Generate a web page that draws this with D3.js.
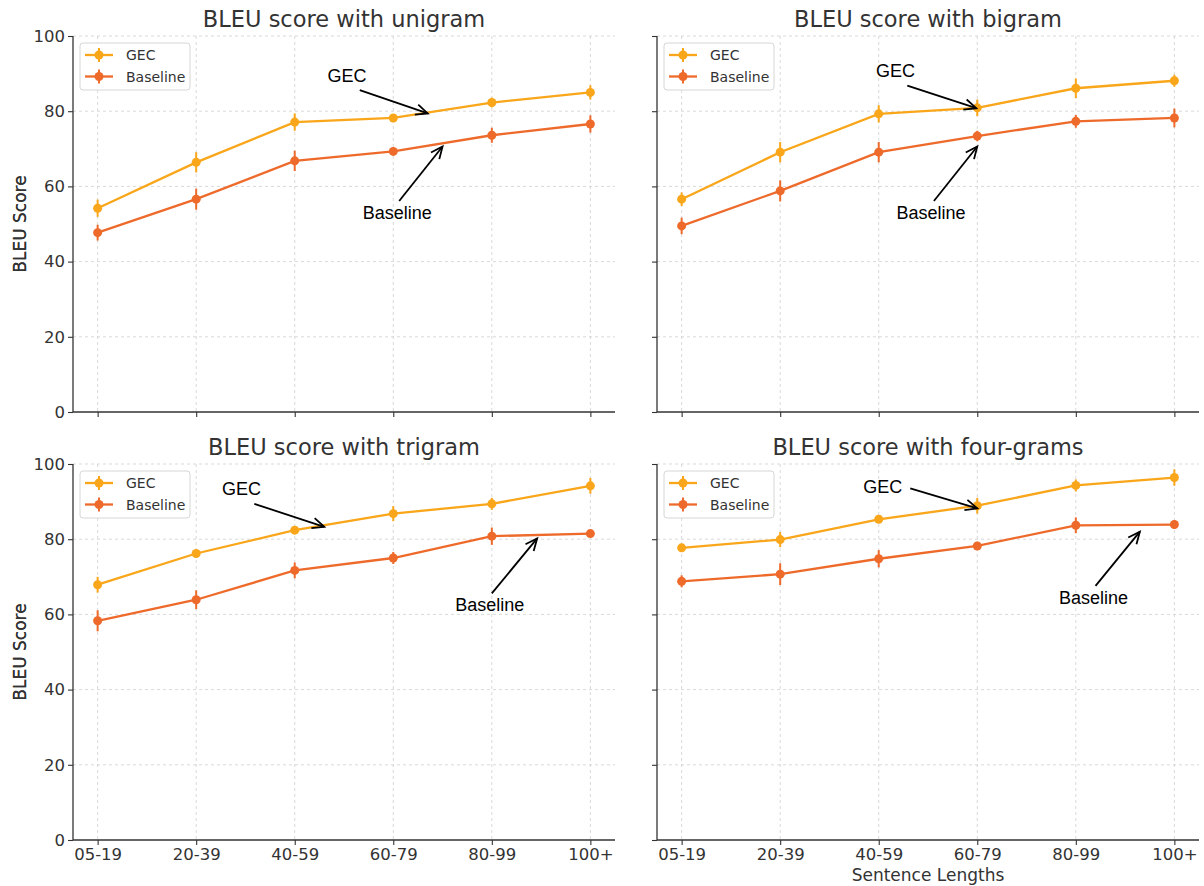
<!DOCTYPE html>
<html>
<head>
<meta charset="utf-8">
<script src="https://cdn.jsdelivr.net/npm/d3@7"></script>
<style>
  html, body { margin: 0; padding: 0; background: #fff; }
  svg { display: block; }
</style>
</head>
<body>
<svg id="chart" width="1204" height="886"></svg>
<script>
// ---------- data ----------
const categories = ["05-19", "20-39", "40-59", "60-79", "80-99", "100+"];
const yTicks = [0, 20, 40, 60, 80, 100];
const seriesNames = ["GEC", "Baseline"];
const panelTitles = ["BLEU score with unigram", "BLEU score with bigram", "BLEU score with trigram", "BLEU score with four-grams"];

const unigramGEC = [54.2, 66.4, 77.1, 78.2, 82.3, 85.0];
const unigramGECErr = [2.3, 2.7, 2.3, 1.0, 1.3, 1.9];
const unigramBase = [47.7, 56.6, 66.8, 69.3, 73.6, 76.6];
const unigramBaseErr = [2.1, 2.8, 2.7, 1.0, 2.0, 2.3];

const bigramGEC = [56.6, 69.1, 79.3, 80.9, 86.1, 88.1];
const bigramGECErr = [1.8, 2.7, 2.3, 2.2, 2.6, 1.6];
const bigramBase = [49.5, 58.8, 69.1, 73.4, 77.3, 78.2];
const bigramBaseErr = [2.2, 2.8, 2.7, 1.4, 1.7, 2.5];

const trigramGEC = [67.9, 76.2, 82.4, 86.8, 89.4, 94.2];
const trigramGECErr = [2.1, 0.9, 1.0, 2.0, 1.6, 2.1];
const trigramBase = [58.3, 63.9, 71.7, 75.0, 80.8, 81.5];
const trigramBaseErr = [2.8, 2.5, 2.1, 1.6, 2.3, 0.8];

const fourgramGEC = [77.7, 79.9, 85.3, 88.9, 94.3, 96.4];
const fourgramGECErr = [0.9, 2.0, 0.9, 2.1, 1.6, 2.2];
const fourgramBase = [68.8, 70.7, 74.8, 78.2, 83.7, 83.9];
const fourgramBaseErr = [1.6, 2.9, 2.3, 1.1, 2.1, 1.2];

// annotations in data coordinates: [label, textX, textY, tailX, tailY, headX, headY]
const unigramNotes = [["GEC", 2.53, 89.4, 2.66, 85.6, 3.35, 79.4], ["Baseline", 3.04, 53.0, 3.06, 56.1, 3.50, 70.6]];
const bigramNotes = [["GEC", 2.17, 90.7, 2.29, 86.8, 2.99, 80.8], ["Baseline", 2.53, 53.0, 2.56, 56.1, 3.00, 70.6]];
const trigramNotes = [["GEC", 1.46, 93.3, 1.59, 89.4, 2.30, 83.3], ["Baseline", 3.98, 62.5, 4.00, 65.6, 4.46, 80.2]];
const fourgramNotes = [["GEC", 2.04, 94.0, 2.32, 93.5, 3.00, 88.2], ["Baseline", 4.18, 64.3, 4.20, 67.6, 4.65, 82.0]];

// ---------- styling ----------
const colors = { GEC: "#F9A61A", Baseline: "#EE6A2B" };
const textColor = "#333333";
const baseFont = "'DejaVu Sans', sans-serif";
const noteFont = "'Liberation Sans', Arial, sans-serif";

const panels = [
  { title: panelTitles[0], gec: unigramGEC, gecErr: unigramGECErr, base: unigramBase, baseErr: unigramBaseErr, notes: unigramNotes, left: 73, top: 36, showY: true, showX: false },
  { title: panelTitles[1], gec: bigramGEC, gecErr: bigramGECErr, base: bigramBase, baseErr: bigramBaseErr, notes: bigramNotes, left: 657, top: 36, showY: false, showX: false },
  { title: panelTitles[2], gec: trigramGEC, gecErr: trigramGECErr, base: trigramBase, baseErr: trigramBaseErr, notes: trigramNotes, left: 73, top: 464, showY: true, showX: true },
  { title: panelTitles[3], gec: fourgramGEC, gecErr: fourgramGECErr, base: fourgramBase, baseErr: fourgramBaseErr, notes: fourgramNotes, left: 657, top: 464, showY: false, showX: true, xLabel: "Sentence Lengths" }
];
const pw = 542, ph = 376;

const svg = d3.select("#chart");
svg.append("rect").attr("width", 1204).attr("height", 886).attr("fill", "#fff");

panels.forEach((p) => {
  const x = d3.scaleLinear().domain([-0.25, categories.length - 0.75]).range([0, pw]);
  const y = d3.scaleLinear().domain([0, 100]).range([ph, 0]);
  const g = svg.append("g").attr("transform", `translate(${p.left},${p.top})`);

  // grid
  const grid = g.append("g");
  grid.selectAll("line.gy").data(yTicks.filter(t => t > 0)).join("line")
    .attr("x1", 0).attr("x2", pw).attr("y1", d => y(d)).attr("y2", d => y(d))
    .attr("stroke", "#cfcfcf").attr("stroke-width", 0.8).attr("stroke-dasharray", "3,3");
  grid.selectAll("line.gx").data(categories.map((c, i) => i)).join("line")
    .attr("x1", d => x(d)).attr("x2", d => x(d)).attr("y1", 0).attr("y2", ph)
    .attr("stroke", "#cfcfcf").attr("stroke-width", 0.8).attr("stroke-dasharray", "3,3");

  // axes
  const yAxis = d3.axisLeft(y).tickValues(yTicks).tickSize(5).tickPadding(3)
    .tickFormat(p.showY ? d3.format("d") : () => "");
  const ya = g.append("g").call(yAxis);
  const xAxis = d3.axisBottom(x).tickValues(categories.map((c, i) => i)).tickSize(5).tickPadding(3)
    .tickFormat(p.showX ? (i => categories[i]) : () => "");
  const xa = g.append("g").attr("transform", `translate(0,${ph})`).call(xAxis);
  [ya, xa].forEach(a => {
    a.select(".domain").attr("stroke", "#333").attr("stroke-width", 1.3).attr("d",
      a === ya ? `M0,${ph}V0` : `M0,0H${pw}`);
    a.selectAll(".tick line").attr("stroke", "#333").attr("stroke-width", 1.1);
    a.selectAll(".tick text").attr("fill", textColor).style("font-family", baseFont).style("font-size", "16.5px");
  });

  // title
  g.append("text").attr("x", pw / 2).attr("y", -9).attr("text-anchor", "middle")
    .style("font-family", baseFont).style("font-size", "22.5px").style("font-weight", "normal")
    .attr("fill", textColor).text(p.title);

  // y label
  g.append("text").attr("transform", `translate(${20 - p.left},${ph / 2}) rotate(-90)`)
    .attr("text-anchor", "middle").attr("dominant-baseline", "central")
    .style("font-family", baseFont).style("font-size", "17px").style("font-weight", "normal")
    .attr("fill", textColor).text("BLEU Score");

  if (p.xLabel) {
    g.append("text").attr("x", pw / 2).attr("y", ph + 35).attr("text-anchor", "middle").attr("dominant-baseline", "central")
      .style("font-family", baseFont).style("font-size", "17px").attr("fill", textColor).text(p.xLabel);
  }

  // series
  const seriesData = [
    { name: "GEC", vals: p.gec, err: p.gecErr },
    { name: "Baseline", vals: p.base, err: p.baseErr }
  ];
  const line = d3.line().x((d, i) => x(i)).y(d => y(d));
  seriesData.forEach(s => {
    const sg = g.append("g");
    sg.append("path").datum(s.vals).attr("d", line).attr("fill", "none")
      .attr("stroke", colors[s.name]).attr("stroke-width", 2.3);
    sg.selectAll("line.err").data(s.vals).join("line")
      .attr("x1", (d, i) => x(i)).attr("x2", (d, i) => x(i))
      .attr("y1", (d, i) => y(d - s.err[i])).attr("y2", (d, i) => y(d + s.err[i]))
      .attr("stroke", colors[s.name]).attr("stroke-width", 2);
    sg.selectAll("circle").data(s.vals).join("circle")
      .attr("cx", (d, i) => x(i)).attr("cy", d => y(d)).attr("r", 4.5)
      .attr("fill", colors[s.name]);
  });

  // legend
  const lg = g.append("g").attr("transform", "translate(7,7)");
  lg.append("rect").attr("x", 0).attr("y", 0).attr("width", 110).attr("height", 47).attr("rx", 3)
    .attr("fill", "#fff").attr("fill-opacity", 0.85).attr("stroke", "#d6d6d6").attr("stroke-width", 1);
  seriesNames.forEach((n, k) => {
    const ly = 12 + k * 21.5;
    lg.append("line").attr("x1", 5).attr("x2", 33).attr("y1", ly).attr("y2", ly)
      .attr("stroke", colors[n]).attr("stroke-width", 2.3);
    lg.append("line").attr("x1", 19).attr("x2", 19).attr("y1", ly - 7).attr("y2", ly + 7)
      .attr("stroke", colors[n]).attr("stroke-width", 2);
    lg.append("circle").attr("cx", 19).attr("cy", ly).attr("r", 4.5).attr("fill", colors[n]);
    lg.append("text").attr("x", 46).attr("y", ly).attr("dominant-baseline", "central")
      .style("font-family", baseFont).style("font-size", "14px").attr("fill", textColor).text(n);
  });

  // annotations
  p.notes.forEach(nt => {
    const [label, tx, ty, ax, ay, hx, hy] = nt;
    const ag = g.append("g");
    ag.append("text").attr("x", x(tx)).attr("y", y(ty)).attr("text-anchor", "middle").attr("dominant-baseline", "central")
      .style("font-family", noteFont).style("font-size", "18px").attr("fill", "#000").text(label);
    const x1 = x(ax), y1 = y(ay), x2 = x(hx), y2 = y(hy);
    ag.append("line").attr("x1", x1).attr("y1", y1).attr("x2", x2).attr("y2", y2)
      .attr("stroke", "#000").attr("stroke-width", 1.8);
    const ang = Math.atan2(y2 - y1, x2 - x1);
    const L = 13, W = 0.42;
    const pA = [x2 - L * Math.cos(ang - W), y2 - L * Math.sin(ang - W)];
    const pB = [x2 - L * Math.cos(ang + W), y2 - L * Math.sin(ang + W)];
    ag.append("path").attr("d", `M${pA[0]},${pA[1]}L${x2},${y2}L${pB[0]},${pB[1]}`)
      .attr("fill", "none").attr("stroke", "#000").attr("stroke-width", 1.8).attr("stroke-linejoin", "miter");
  });
});
</script>
</body>
</html>
